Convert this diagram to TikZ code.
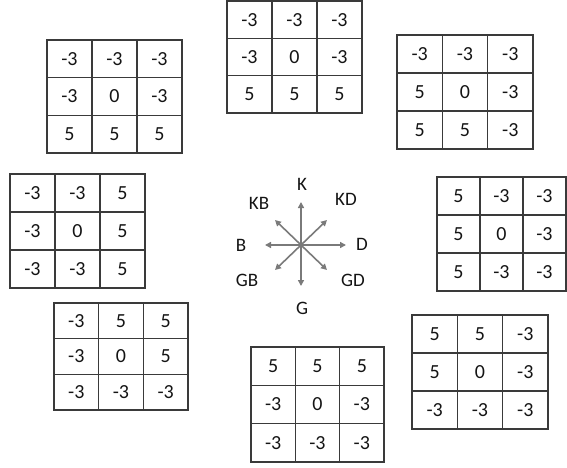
\documentclass[tikz,border=0pt]{standalone}
\usepackage{fontspec}
\setmainfont{Carlito}
\usetikzlibrary{arrows.meta}
\definecolor{gridink}{HTML}{3A3A3A}
\definecolor{arrowgray}{HTML}{7A7A7A}
\definecolor{numink}{HTML}{141414}

\tikzset{
  gridline/.style={gridink, line width=1.4pt},
  cellnum/.style={numink, inner sep=0pt, font=\fontsize{20}{24}\selectfont},
  dirlabel/.style={numink, inner sep=0pt, font=\fontsize{19}{23}\selectfont},
  dirarrow/.style={arrowgray, line width=1.6pt, -{Triangle[length=6pt,width=6pt]}}
}

% 3x3 kernel: name, left, top, width, height, entries (row by row)
\newcommand{\kgrid}[6]{%
  \begin{scope}[shift={(#2,#3)}]
    \draw[gridline] (0,0) rectangle (#4,#5);
    \draw[gridline] ({#4/3},0) -- ({#4/3},#5);
    \draw[gridline] ({2*#4/3},0) -- ({2*#4/3},#5);
    \draw[gridline] (0,{#5/3}) -- (#4,{#5/3});
    \draw[gridline] (0,{2*#5/3}) -- (#4,{2*#5/3});
    \foreach \v [count=\i from 0] in {#6} {
      \pgfmathtruncatemacro{\kcol}{mod(\i,3)}
      \pgfmathtruncatemacro{\krow}{\i/3}
      \node[cellnum] (#1-\krow\kcol) at ({(\kcol+0.5)*#4/3},{(\krow+0.5)*#5/3}) {\v};
    }
  \end{scope}%
}

\begin{document}
\begin{tikzpicture}[x=1pt, y=-1pt]
  \useasboundingbox (0,0) rectangle (567,468);

  % ---------- the eight direction kernels
  \kgrid{kb}{47}{40}{135}{113}{-3,-3,-3,-3,0,-3,5,5,5}
  \kgrid{k}{227}{1}{135}{112}{-3,-3,-3,-3,0,-3,5,5,5}
  \kgrid{kd}{397}{35}{136}{114}{-3,-3,-3,5,0,-3,5,5,-3}
  \kgrid{b}{10}{174}{135}{114}{-3,-3,5,-3,0,5,-3,-3,5}
  \kgrid{d}{437}{177}{129}{114}{5,-3,-3,5,0,-3,5,-3,-3}
  \kgrid{gb}{54}{303}{134}{107}{-3,5,5,-3,0,5,-3,-3,-3}
  \kgrid{g}{251}{347}{133}{115}{5,5,5,-3,0,-3,-3,-3,-3}
  \kgrid{gd}{412}{315}{136}{114}{5,5,-3,5,0,-3,-3,-3,-3}

  % ---------- compass in the middle
  \coordinate (ctr) at (301,245);
  \coordinate (tipK) at (301,202);
  \coordinate (tipKD) at (327,220);
  \coordinate (tipD) at (346,245);
  \coordinate (tipGD) at (327,270);
  \coordinate (tipG) at (301,286);
  \coordinate (tipGB) at (275,270);
  \coordinate (tipB) at (265,245);
  \coordinate (tipKB) at (275,220);

  \foreach \t in {K,KD,D,GD,G,GB,B,KB}
    \draw[dirarrow] (ctr) -- (tip\t);

  \node[dirlabel] (lblK) at (302,184) {K};
  \node[dirlabel] (lblKD) at (346,199) {KD};
  \node[dirlabel] (lblD) at (362,244) {D};
  \node[dirlabel] (lblGD) at (353,280) {GD};
  \node[dirlabel] (lblG) at (302,308) {G};
  \node[dirlabel] (lblGB) at (247,280) {GB};
  \node[dirlabel] (lblB) at (241,245) {B};
  \node[dirlabel] (lblKB) at (259,203) {KB};
\end{tikzpicture}
\end{document}
